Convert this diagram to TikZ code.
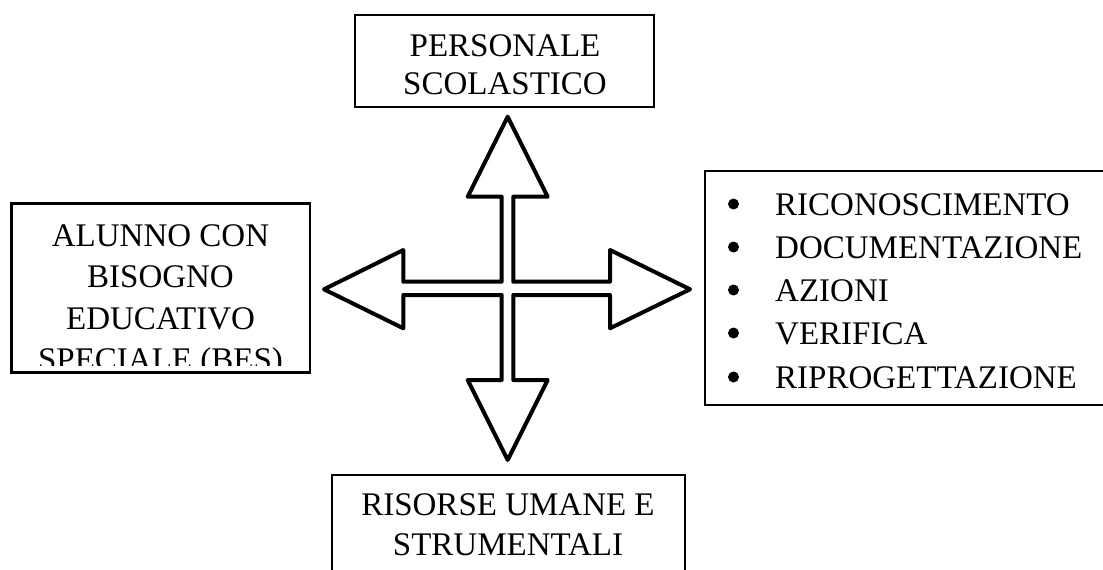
\documentclass[tikz,border=0pt]{standalone}
\usepackage{fontspec}
\setmainfont{Liberation Serif}
\tikzset{
  boxline/.style={line width=2.5pt, black},
  arrowline/.style={line width=4pt, black, line join=round},
  txt/.style={anchor=base, inner sep=0pt, font=\fontsize{33}{38}\selectfont},
  itemtxt/.style={anchor=base west, inner sep=0pt, font=\fontsize{33}{38}\selectfont},
  bul/.style={circle, fill=black, inner sep=0pt, minimum size=11pt},
}
\begin{document}
\begin{tikzpicture}[x=1pt,y=-1pt]
\useasboundingbox (0,0) rectangle (1103,570);
\clip (0,0) rectangle (1103,570);
\fill[white] (0,0) rectangle (1103,570);

% top box
\draw[boxline] (355,15) rectangle (654,107);
\node[txt] (t1) at (505,56) {PERSONALE};
\node[txt] (t2) at (505,94) {SCOLASTICO};

% left box (text clipped at bottom)
\draw[boxline] (11.5,203.3) rectangle (310,372.5);
\begin{scope}
\clip (12,204) rectangle (309,365);
\node[txt] (l1) at (160.5,246) {ALUNNO CON};
\node[txt] (l2) at (160.5,287.5) {BISOGNO};
\node[txt] (l3) at (160.5,329) {EDUCATIVO};
\node[txt] (l4) at (160.5,370.5) {SPECIALE (BES)};
\end{scope}

% right box
\draw[boxline] (1110,171) -- (705,171) -- (705,405) -- (1110,405);
\node[bul] (b1) at (733.5,204) {};
\node[itemtxt] (r1) at (775,215) {RICONOSCIMENTO};
\node[bul] (b2) at (733.5,247) {};
\node[itemtxt] (r2) at (775,258) {DOCUMENTAZIONE};
\node[bul] (b3) at (733.5,290) {};
\node[itemtxt] (r3) at (775,301) {AZIONI};
\node[bul] (b4) at (733.5,333) {};
\node[itemtxt] (r4) at (775,344) {VERIFICA};
\node[bul] (b5) at (733.5,377) {};
\node[itemtxt] (r5) at (775,388) {RIPROGETTAZIONE};

% bottom box
\draw[boxline] (332,580) -- (332,475) -- (685,475) -- (685,580);
\node[txt] (d1) at (508,515) {RISORSE UMANE E};
\node[txt] (d2) at (508,555) {STRUMENTALI};

% quad arrow
\draw[arrowline] (507.7,116.7) -- (547.7,196.7) -- (513.3,196.7) -- (513.3,281.7)
  -- (610,281.7) -- (610,250) -- (690,289.3) -- (610,328.3) -- (610,295)
  -- (513.3,295) -- (513.3,380) -- (547.7,380) -- (507.7,460) -- (467.7,380)
  -- (501.7,380) -- (501.7,295) -- (403.3,295) -- (403.3,328.3) -- (324,289.3)
  -- (403.3,250) -- (403.3,281.7) -- (501.7,281.7) -- (501.7,196.7)
  -- (467.7,196.7) -- cycle;
\end{tikzpicture}
\end{document}
